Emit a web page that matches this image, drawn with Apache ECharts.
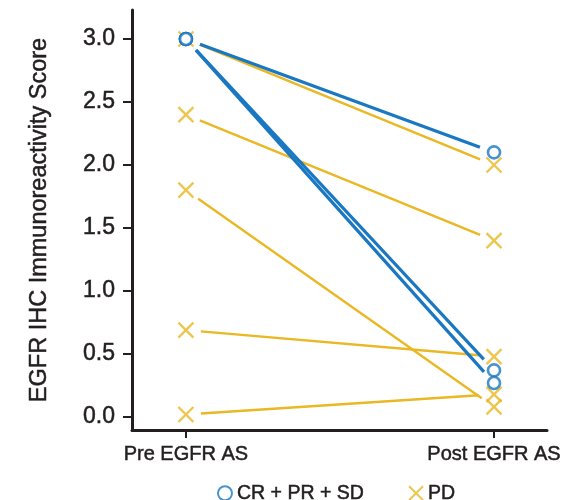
<!DOCTYPE html>
<html lang="en">
<head>
	<meta charset="UTF-8">
	<title>EGFR IHC score pre / post</title>
	<style type="text/css">
		html, body { margin: 0; padding: 0; background: #fff; }
		#a { width: 565px; height: 500px; }
	</style>
</head>
<body>
	<div id="a"></div>
	<script type="text/javascript" src="https://cdn.jsdelivr.net/npm/echarts@6/dist/echarts.min.js"></script>
	<script type="text/javascript">
		// data
		var categories = ['Pre EGFR AS', 'Post EGFR AS'];
		var yTicks = [0, 0.5, 1.0, 1.5, 2.0, 2.5, 3.0];
		// CR + PR + SD (blue circles)
		var respPre = [3.0, 3.0, 3.0];
		var respPost = [2.1, 0.37, 0.27];
		// PD (yellow crosses)
		var pdPre = [3.0, 2.4, 1.8, 0.69, 0.02];
		var pdPost = [2.0, 1.4, 0.08, 0.48, 0.18];

		var BLUE = '#1a78c2';
		var YELLOW = '#e9b824';
		var INK = '#231f20';
		var FONT = '"Liberation Sans", Arial, sans-serif';
		var CROSS = 'path://M0,0L10,10M10,0L0,10';

		var myChart = echarts.init(document.getElementById('a'));

		// pairs for the connecting lines
		function pairs(pre, post) {
			var out = [];
			for (var i = 0; i < pre.length; i++) out.push([pre[i], post[i]]);
			return out;
		}
		// marker points at x=0 (pre) and x=1 (post)
		function points(pre, post) {
			var out = [];
			for (var i = 0; i < pre.length; i++) out.push([0, pre[i]]);
			for (var j = 0; j < post.length; j++) out.push([1, post[j]]);
			return out;
		}

		// line segment that stops short of the markers
		function segment(color, width) {
			return function (params, api) {
				var p0 = api.coord([0, api.value(0)]);
				var p1 = api.coord([1, api.value(1)]);
				var dx = p1[0] - p0[0], dy = p1[1] - p0[1];
				var len = Math.sqrt(dx * dx + dy * dy);
				var gap = 15;
				var ux = dx / len, uy = dy / len;
				return {
					type: 'line',
					shape: {
						x1: p0[0] + ux * gap, y1: p0[1] + uy * gap,
						x2: p1[0] - ux * gap, y2: p1[1] - uy * gap
					},
					style: { stroke: color, lineWidth: width }
				};
			};
		}

		// a thin outline in the same colour makes the text a bit heavier
		var heavy = { textBorderColor: INK, textBorderWidth: 0.5 };

		var option = {
			animation: false,
			grid: { left: 132, right: 18, top: 10, bottom: 70 },
			legend: {
				data: ['CR + PR + SD', 'PD'],
				left: 212,
				top: 478,
				itemGap: 44,
				itemWidth: 14,
				itemHeight: 14,
				textStyle: Object.assign({ fontFamily: FONT, fontSize: 19.5, color: INK }, heavy)
			},
			xAxis: {
				type: 'value',
				min: -0.175,
				max: 1.172,
				splitLine: { show: false },
				axisLine: { onZero: false, lineStyle: { color: INK, width: 3 } },
				axisTick: { customValues: [0, 1], length: 8, lineStyle: { color: INK, width: 2 } },
				axisLabel: Object.assign({
					customValues: [0, 1],
					margin: 14,
					fontFamily: FONT,
					fontSize: 20,
					color: INK,
					formatter: function (v) { return categories[Math.round(v)]; }
				}, heavy)
			},
			yAxis: {
				type: 'value',
				min: -0.103,
				max: 3.23,
				name: 'EGFR IHC Immunoreactivity Score',
				nameLocation: 'middle',
				nameGap: 80,
				nameTextStyle: Object.assign({ fontFamily: FONT, fontSize: 23.5, color: INK }, heavy),
				splitLine: { show: false },
				axisLine: { onZero: false, lineStyle: { color: INK, width: 3 } },
				axisTick: { customValues: yTicks, length: 9, lineStyle: { color: INK, width: 2 } },
				axisLabel: Object.assign({
					customValues: yTicks,
					margin: 17,
					fontFamily: FONT,
					fontSize: 23,
					color: INK,
					formatter: function (v) { return v.toFixed(1); }
				}, heavy)
			},
			series: [
				{
					type: 'custom',
					renderItem: segment(YELLOW, 2.4),
					data: pairs(pdPre, pdPost),
					z: 1
				},
				{
					type: 'custom',
					renderItem: segment(BLUE, 3.2),
					data: pairs(respPre, respPost),
					z: 2
				},
				{
					name: 'PD',
					type: 'scatter',
					symbol: CROSS,
					symbolSize: 15,
					itemStyle: { color: 'rgba(0,0,0,0)', borderColor: YELLOW, borderWidth: 2.4 },
					data: points(pdPre, pdPost),
					z: 3
				},
				{
					name: 'CR + PR + SD',
					type: 'scatter',
					symbol: 'circle',
					symbolSize: 12,
					itemStyle: { color: '#fff', borderColor: BLUE, borderWidth: 2.6 },
					data: points(respPre, respPost),
					z: 4
				}
			]
		};
		myChart.setOption(option);
	</script>
</body>
</html>
